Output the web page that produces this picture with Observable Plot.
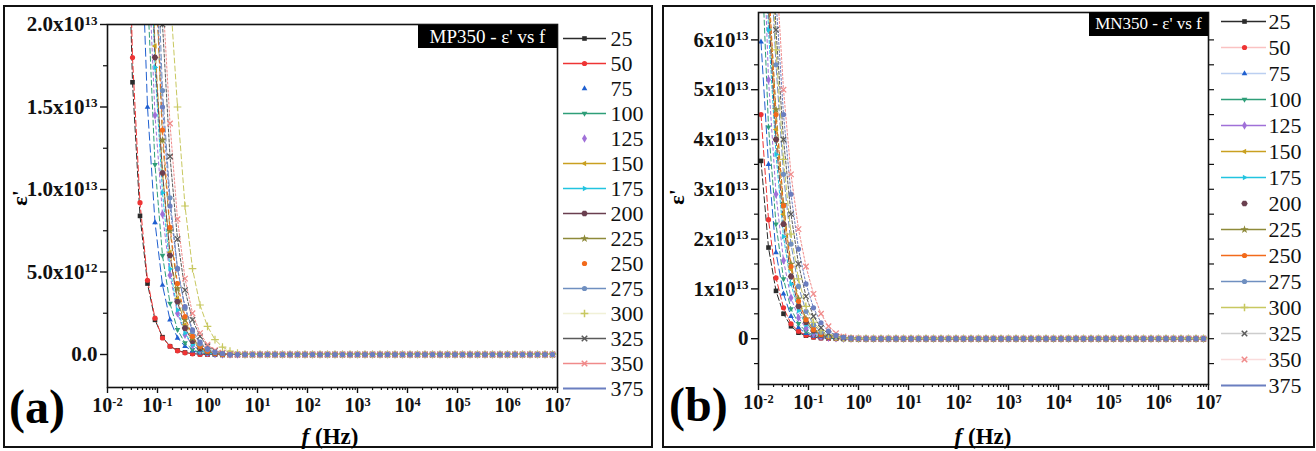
<!DOCTYPE html>
<html><head><meta charset="utf-8">
<script src="https://cdn.jsdelivr.net/npm/d3@7"></script>
<script src="https://cdn.jsdelivr.net/npm/@observablehq/plot@0.6"></script>
<style>
body{margin:0;background:#fff;width:1316px;height:451px;position:relative;overflow:hidden;font-family:'Liberation Serif','Times New Roman',serif;}
.panel{position:absolute;border:2px solid #111;box-sizing:border-box;}
.abs{position:absolute;white-space:nowrap;}
.tag{font-weight:bold;font-size:48px;line-height:48px;}
.ttl{background:#000;color:#fff;font-size:19px;text-align:center;box-sizing:border-box;}
.xl{font-weight:bold;font-size:23px;line-height:23px;transform:translateX(-50%);}
.yl{font-weight:bold;font-size:22px;line-height:22px;transform:translate(-50%,-50%) rotate(-90deg);}
svg{position:absolute;}
</style></head><body>
<div class="panel" style="left:3px;top:5px;width:650px;height:443px"></div>
<div class="panel" style="left:662px;top:5px;width:653px;height:443px"></div>
<div class="abs tag" style="left:9px;top:383px">(a)</div>
<div class="abs tag" style="left:669px;top:381px">(b)</div>
<div class="abs xl" style="left:330px;top:425px"><i>f</i> (Hz)</div>
<div class="abs xl" style="left:983px;top:425px"><i>f</i> (Hz)</div>
<div class="abs yl" style="left:20px;top:198px">ε'</div>
<div class="abs yl" style="left:677px;top:197px">ε'</div>
<div id="root"></div>
<div class="abs ttl" style="left:418px;top:25px;width:139px;height:23px;line-height:23px">MP350 - ε' vs f</div>
<div class="abs ttl" style="left:1089px;top:12px;width:119px;height:24px;line-height:24px;font-size:17px">MN350 - ε' vs f</div>
<script>
// Temperatures (legend categories)
const temps = ["25","50","75","100","125","150","175","200","225","250","275","300","325","350","375"];
// log10 of frequency (Hz) of each measured point
const logF = [-1.95,-1.8,-1.65,-1.5,-1.35,-1.2,-1.05,-0.9,-0.75,-0.6,
  -0.45,-0.3,-0.15,0,0.15,0.3,0.45,0.6,0.75,0.9,
  1.05,1.2,1.35,1.5,1.65,1.8,1.95,2.1,2.25,2.4,
  2.55,2.7,2.85,3,3.15,3.3,3.45,3.6,3.75,3.9,
  4.05,4.2,4.35,4.5,4.65,4.8,4.95,5.1,5.25,5.4,
  5.55,5.7,5.85,6,6.15,6.3,6.45,6.6,6.75,6.9];

// MP350 eps' values, in units of 1e12
const mp25 = [130,66,33,16.5,8.4,4.3,2.1,1.05,0.5,0.25, 0.12,0.05,0.02,0,0,0,0,0,0,0,
  0,0,0,0,0,0,0,0,0,0, 0,0,0,0,0,0,0,0,0,0, 0,0,0,0,0,0,0,0,0,0, 0,0,0,0,0,0,0,0,0,0];
const mp50 = [150,74,36,18,9.2,4.5,2.2,1.0,0.5,0.22, 0.1,0.04,0,0,0,0,0,0,0,0,
  0,0,0,0,0,0,0,0,0,0, 0,0,0,0,0,0,0,0,0,0, 0,0,0,0,0,0,0,0,0,0, 0,0,0,0,0,0,0,0,0,0];
const mp75 = [300,170,95,52,28,15,8,4.2,2.1,1.0, 0.5,0.22,0.1,0.04,0,0,0,0,0,0,
  0,0,0,0,0,0,0,0,0,0, 0,0,0,0,0,0,0,0,0,0, 0,0,0,0,0,0,0,0,0,0, 0,0,0,0,0,0,0,0,0,0];
const mp100 = [500,280,150,80,42,22,11.5,6,3.1,1.5, 0.7,0.3,0.12,0.05,0,0,0,0,0,0,
  0,0,0,0,0,0,0,0,0,0, 0,0,0,0,0,0,0,0,0,0, 0,0,0,0,0,0,0,0,0,0, 0,0,0,0,0,0,0,0,0,0];
const mp125 = [400,220,130,75,43,25,14.5,8.5,4.8,2.5, 1.2,0.55,0.25,0.1,0.04,0,0,0,0,0,
  0,0,0,0,0,0,0,0,0,0, 0,0,0,0,0,0,0,0,0,0, 0,0,0,0,0,0,0,0,0,0, 0,0,0,0,0,0,0,0,0,0];
const mp150 = [600,330,180,100,57,32,18.7,11,6.2,3.4, 1.8,0.9,0.4,0.17,0.07,0,0,0,0,0,
  0,0,0,0,0,0,0,0,0,0, 0,0,0,0,0,0,0,0,0,0, 0,0,0,0,0,0,0,0,0,0, 0,0,0,0,0,0,0,0,0,0];
const mp175 = [500,280,160,90,52,30,17.4,9.8,5.2,2.7, 1.3,0.6,0.25,0.1,0.04,0,0,0,0,0,
  0,0,0,0,0,0,0,0,0,0, 0,0,0,0,0,0,0,0,0,0, 0,0,0,0,0,0,0,0,0,0, 0,0,0,0,0,0,0,0,0,0];
const mp200 = [550,310,170,95,55,31,18,11,6,3.2, 1.6,0.8,0.35,0.15,0.06,0,0,0,0,0,
  0,0,0,0,0,0,0,0,0,0, 0,0,0,0,0,0,0,0,0,0, 0,0,0,0,0,0,0,0,0,0, 0,0,0,0,0,0,0,0,0,0];
const mp225 = [900,500,280,150,85,45,24,13,7.5,4, 2.1,1,0.45,0.2,0.08,0,0,0,0,0,
  0,0,0,0,0,0,0,0,0,0, 0,0,0,0,0,0,0,0,0,0, 0,0,0,0,0,0,0,0,0,0, 0,0,0,0,0,0,0,0,0,0];
const mp250 = [900,500,270,150,80,44,24,13.6,7.7,4.3, 2.3,1.1,0.5,0.2,0.08,0,0,0,0,0,
  0,0,0,0,0,0,0,0,0,0, 0,0,0,0,0,0,0,0,0,0, 0,0,0,0,0,0,0,0,0,0, 0,0,0,0,0,0,0,0,0,0];
const mp275 = [1000,560,310,170,95,52,28,16,9.5,5.2, 2.8,1.4,0.65,0.3,0.12,0.05,0,0,0,0,
  0,0,0,0,0,0,0,0,0,0, 0,0,0,0,0,0,0,0,0,0, 0,0,0,0,0,0,0,0,0,0, 0,0,0,0,0,0,0,0,0,0];
const mp300 = [1200,750,450,280,170,95,55,35,22,15, 9,5.2,3,1.7,0.9,0.45,0.2,0.08,0,0,
  0,0,0,0,0,0,0,0,0,0, 0,0,0,0,0,0,0,0,0,0, 0,0,0,0,0,0,0,0,0,0, 0,0,0,0,0,0,0,0,0,0];
const mp325 = [700,420,250,150,90,55,33,20,12,7, 3.9,2.1,1.1,0.5,0.22,0.09,0,0,0,0,
  0,0,0,0,0,0,0,0,0,0, 0,0,0,0,0,0,0,0,0,0, 0,0,0,0,0,0,0,0,0,0, 0,0,0,0,0,0,0,0,0,0];
const mp350 = [800,480,290,170,100,60,36,22,14,8.2, 4.6,2.5,1.3,0.6,0.27,0.11,0,0,0,0,
  0,0,0,0,0,0,0,0,0,0, 0,0,0,0,0,0,0,0,0,0, 0,0,0,0,0,0,0,0,0,0, 0,0,0,0,0,0,0,0,0,0];
const mp375 = [600,350,200,115,66,39,24,15,9,5.2, 2.9,1.5,0.75,0.35,0.15,0.06,0,0,0,0,
  0,0,0,0,0,0,0,0,0,0, 0,0,0,0,0,0,0,0,0,0, 0,0,0,0,0,0,0,0,0,0, 0,0,0,0,0,0,0,0,0,0];

// MN350 eps' values, in units of 1e12
const mn25 = [35.7,18.3,9.6,5.0,2.5,1.2,0.6,0.28,0.12,0.05, 0,0,0,0,0,0,0,0,0,0,
  0,0,0,0,0,0,0,0,0,0, 0,0,0,0,0,0,0,0,0,0, 0,0,0,0,0,0,0,0,0,0, 0,0,0,0,0,0,0,0,0,0];
const mn50 = [45,23.9,12.2,6.2,3.0,1.5,0.7,0.33,0.14,0.06, 0,0,0,0,0,0,0,0,0,0,
  0,0,0,0,0,0,0,0,0,0, 0,0,0,0,0,0,0,0,0,0, 0,0,0,0,0,0,0,0,0,0, 0,0,0,0,0,0,0,0,0,0];
const mn75 = [59.6,35,17.3,9.0,4.5,2.2,1.05,0.5,0.22,0.09, 0,0,0,0,0,0,0,0,0,0,
  0,0,0,0,0,0,0,0,0,0, 0,0,0,0,0,0,0,0,0,0, 0,0,0,0,0,0,0,0,0,0, 0,0,0,0,0,0,0,0,0,0];
const mn100 = [80,42.5,23,12,6,3,1.45,0.7,0.3,0.12, 0.05,0,0,0,0,0,0,0,0,0,
  0,0,0,0,0,0,0,0,0,0, 0,0,0,0,0,0,0,0,0,0, 0,0,0,0,0,0,0,0,0,0, 0,0,0,0,0,0,0,0,0,0];
const mn125 = [95,52,29,15.7,8.2,4.2,2.1,1.0,0.45,0.2, 0.08,0,0,0,0,0,0,0,0,0,
  0,0,0,0,0,0,0,0,0,0, 0,0,0,0,0,0,0,0,0,0, 0,0,0,0,0,0,0,0,0,0, 0,0,0,0,0,0,0,0,0,0];
const mn150 = [120,68,42,25,14,7.5,3.8,1.9,0.9,0.4, 0.16,0.06,0,0,0,0,0,0,0,0,
  0,0,0,0,0,0,0,0,0,0, 0,0,0,0,0,0,0,0,0,0, 0,0,0,0,0,0,0,0,0,0, 0,0,0,0,0,0,0,0,0,0];
const mn175 = [100,62,37,20.5,11,5.6,2.8,1.35,0.6,0.25, 0.1,0,0,0,0,0,0,0,0,0,
  0,0,0,0,0,0,0,0,0,0, 0,0,0,0,0,0,0,0,0,0, 0,0,0,0,0,0,0,0,0,0, 0,0,0,0,0,0,0,0,0,0];
const mn200 = [105,66,40,23,12.5,6.5,3.3,1.6,0.75,0.33, 0.14,0.05,0,0,0,0,0,0,0,0,
  0,0,0,0,0,0,0,0,0,0, 0,0,0,0,0,0,0,0,0,0, 0,0,0,0,0,0,0,0,0,0, 0,0,0,0,0,0,0,0,0,0];
const mn225 = [115,70,46,27,15,8,4,2,0.95,0.42, 0.18,0.07,0,0,0,0,0,0,0,0,
  0,0,0,0,0,0,0,0,0,0, 0,0,0,0,0,0,0,0,0,0, 0,0,0,0,0,0,0,0,0,0, 0,0,0,0,0,0,0,0,0,0];
const mn250 = [110,72,45,26.7,14.5,7.5,3.8,1.8,0.85,0.38, 0.16,0.06,0,0,0,0,0,0,0,0,
  0,0,0,0,0,0,0,0,0,0, 0,0,0,0,0,0,0,0,0,0, 0,0,0,0,0,0,0,0,0,0, 0,0,0,0,0,0,0,0,0,0];
const mn275 = [130,85,55,33,19,10.5,5.5,2.8,1.3,0.6, 0.25,0.1,0,0,0,0,0,0,0,0,
  0,0,0,0,0,0,0,0,0,0, 0,0,0,0,0,0,0,0,0,0, 0,0,0,0,0,0,0,0,0,0, 0,0,0,0,0,0,0,0,0,0];
const mn300 = [140,90,58,36,21,12,6.5,3.3,1.6,0.75, 0.32,0.13,0.05,0,0,0,0,0,0,0,
  0,0,0,0,0,0,0,0,0,0, 0,0,0,0,0,0,0,0,0,0, 0,0,0,0,0,0,0,0,0,0, 0,0,0,0,0,0,0,0,0,0];
const mn325 = [150,95,62,40,25,15,8.5,4.5,2.2,1.0, 0.45,0.18,0.07,0,0,0,0,0,0,0,
  0,0,0,0,0,0,0,0,0,0, 0,0,0,0,0,0,0,0,0,0, 0,0,0,0,0,0,0,0,0,0, 0,0,0,0,0,0,0,0,0,0];
const mn350 = [160,110,75,50,33,22,14.5,9,5,2.5, 1.1,0.45,0.17,0.06,0,0,0,0,0,0,
  0,0,0,0,0,0,0,0,0,0, 0,0,0,0,0,0,0,0,0,0, 0,0,0,0,0,0,0,0,0,0, 0,0,0,0,0,0,0,0,0,0];
const mn375 = [155,100,68,45,29,18,11,6.2,3.2,1.5, 0.65,0.27,0.1,0.04,0,0,0,0,0,0,
  0,0,0,0,0,0,0,0,0,0, 0,0,0,0,0,0,0,0,0,0, 0,0,0,0,0,0,0,0,0,0, 0,0,0,0,0,0,0,0,0,0];

const mpSeries = [mp25,mp50,mp75,mp100,mp125,mp150,mp175,mp200,mp225,mp250,mp275,mp300,mp325,mp350,mp375];
const mnSeries = [mn25,mn50,mn75,mn100,mn125,mn150,mn175,mn200,mn225,mn250,mn275,mn300,mn325,mn350,mn375];

// Axis ticks and labels
const xTicks = [1e-2,1e-1,1e0,1e1,1e2,1e3,1e4,1e5,1e6,1e7];
const xLabels = ["10^-2","10^-1","10^0","10^1","10^2","10^3","10^4","10^5","10^6","10^7"];
const yTicksA = [0,5e12,1e13,1.5e13,2e13];
const yLabelsA = ["0.0","5.0x10^12","1.0x10^13","1.5x10^13","2.0x10^13"];
const yMinorA = [2.5e12,7.5e12,1.25e13,1.75e13];
const yTicksB = [0,1e13,2e13,3e13,4e13,5e13,6e13];
const yLabelsB = ["0","1x10^13","2x10^13","3x10^13","4x10^13","5x10^13","6x10^13"];
const yMinorB = [-5e12,5e12,1.5e13,2.5e13,3.5e13,4.5e13,5.5e13];

// Styles
const SERIF = "'Liberation Serif','Times New Roman',serif";
const colors = ["#2b2b2b","#ee3434","#1f5fd0","#2e9e78","#a070d8","#c9a020","#22c4e0","#6a3f4f","#8e8a3a","#f26a1b","#6f8fc0","#c8c860","#5a5a5a","#f08a8a","#6a7ec0"];
const dashes = ["6,3","6,3","8,4","5,3","3,3","6,3","3,2","6,3","5,4","3,3","6,3","5,3","3,2","2,2","2,2"];
function poly(n, rot){ return {draw(ctx, size){ const r = Math.sqrt(size/2); for(let j=0;j<n;j++){ const a = rot + j*2*Math.PI/n; const x=r*Math.cos(a), y=r*Math.sin(a); if(j===0) ctx.moveTo(x,y); else ctx.lineTo(x,y);} ctx.closePath(); }}; }
const triUp = poly(3,-Math.PI/2), triDown = poly(3,Math.PI/2), triLeft = poly(3,Math.PI), triRight = poly(3,0), hexa = poly(6,0);
const symbols = ["square","circle",triUp,triDown,"diamond",triLeft,triRight,hexa,"star","circle","circle","plus","times","times","circle"];
const strokeSym = [false,false,false,false,false,false,false,false,false,false,false,true,true,true,false];
const legendLineA = [1,1,0,1,0,1,1,1,1,0,1,0.25,1,1,1];
const legendLineB = [1,0.3,0.3,1,1,1,1,0,1,1,1,1,0.3,0.3,1];

function rowsFor(vals){ return logF.map((e,k)=>({f: 10**e, v: vals[k]*1e12})); }

function dotOpts(i, r){
  const o = {x:"f", y:"v", symbol: symbols[i], r: r, clip: true};
  if (strokeSym[i]) { o.stroke = colors[i]; o.fill = "none"; o.strokeWidth = 1.2; }
  else { o.fill = colors[i]; }
  return o;
}

function supify(svg){
  const s = d3.select(svg);
  s.selectAll("text").each(function(){
    const t = this.textContent;
    if (!t.includes("^") && !/^[0-9.]+$/.test(t)) return;
    const isX = t.startsWith("10^") && !t.includes("x");
    this.style.fontSize = isX ? "20px" : "21px";
    this.style.fontWeight = "bold";
    this.style.fontFamily = SERIF;
    if (!t.includes("^")) return;
    const [base, exp] = t.split("^");
    const sel = d3.select(this); sel.text(null);
    sel.append("tspan").text(base);
    sel.append("tspan").attr("dy","-0.5em").style("font-size","0.62em").text(exp);
  });
}

function xMinor(){ const t=[]; for(let d=-2; d<7; d++) for(let m=2;m<10;m++) t.push(m*10**d); return t; }

function mainPlot(series, cfg){
  const marks = [];
  series.forEach((vals,i)=>{
    marks.push(Plot.line(rowsFor(vals), {x:"f", y:"v", stroke: colors[i], strokeWidth: 1, strokeDasharray: dashes[i], clip: true}));
  });
  series.forEach((vals,i)=>{
    marks.push(Plot.dot(rowsFor(vals), dotOpts(i, 2.6)));
  });
  marks.push(Plot.frame({strokeWidth: 1.6, stroke: "#111"}));
  marks.push(Plot.axisX({ticks: xTicks, tickSize: 6, tickPadding: 4, tickFormat: d => xLabels[xTicks.indexOf(d)], label: null, strokeWidth: 1.4}));
  marks.push(Plot.axisX({ticks: xMinor(), tickSize: 3, tickFormat: () => "", label: null, strokeWidth: 1.2}));
  marks.push(Plot.axisY({ticks: cfg.yTicks, tickSize: 7, tickPadding: 3, tickFormat: d => cfg.yLabels[cfg.yTicks.indexOf(d)], label: null, strokeWidth: 1.4}));
  marks.push(Plot.axisY({ticks: cfg.yMinor, tickSize: 4, tickFormat: () => "", label: null, strokeWidth: 1.2}));
  if (cfg.rightTicks) marks.push(Plot.axisY({anchor: "right", ticks: cfg.yTicks.concat(cfg.yMinor), tickSize: 5, tickFormat: () => "", label: null, strokeWidth: 1.2}));
  const svg = Plot.plot({
    width: 600, height: 451,
    marginLeft: cfg.ml, marginRight: cfg.mr, marginTop: cfg.mt, marginBottom: cfg.mb,
    style: {background: "none", fontFamily: SERIF, fontSize: "21px", fontWeight: "bold", color: "#111", overflow: "visible"},
    x: {type: "log", domain: [1e-2, 1e7]},
    y: {domain: cfg.yDomain},
    marks
  });
  supify(svg);
  svg.style.left = cfg.left + "px"; svg.style.top = "0px";
  return svg;
}

function legendPlot(cfg){
  const marks = [];
  temps.forEach((t,i)=>{
    marks.push(Plot.ruleY([t], {y: d=>d, x1: ()=>cfg.x1, x2: ()=>cfg.x2, stroke: colors[i], strokeWidth: i===14 ? 2.2 : 1.3, strokeOpacity: cfg.lineOp[i]}));
    const o = {x: ()=>cfg.xm, y: d=>d, symbol: symbols[i], r: 2.6};
    if (strokeSym[i]) { o.stroke = colors[i]; o.fill = "none"; } else { o.fill = colors[i]; }
    if (i !== 14) marks.push(Plot.dot([t], o));
  });
  marks.push(Plot.text(temps, {x: ()=>cfg.xt, y: d=>d, text: d=>d, textAnchor: "start", fontSize: 22, fontFamily: SERIF, fill: "#111"}));
  const svg = Plot.plot({
    width: 92, height: 451, margin: 0,
    style: {background: "none", fontFamily: SERIF, fontSize: "22px", overflow: "visible"},
    x: {type: "identity", axis: null},
    y: {type: "point", domain: temps, range: cfg.range, padding: 0, axis: null},
    marks
  });
  svg.style.left = cfg.left + "px"; svg.style.top = "0px";
  return svg;
}

const root = document.getElementById("root");
root.appendChild(mainPlot(mpSeries, {left: 0, ml: 107, mr: 43, mt: 24, mb: 64, yDomain: [-2e12, 2e13], yTicks: yTicksA, yLabels: yLabelsA, yMinor: yMinorA, rightTicks: false}));
root.appendChild(mainPlot(mnSeries, {left: 660, ml: 98, mr: 52, mt: 12, mb: 67, yDomain: [-9.2e12, 6.55e13], yTicks: yTicksB, yLabels: yLabelsB, yMinor: yMinorB, rightTicks: true}));
root.appendChild(legendPlot({left: 560, x1: 3, x2: 46, xm: 24, xt: 50, range: [36, 390], lineOp: legendLineA}));
root.appendChild(legendPlot({left: 1218, x1: 3, x2: 48, xm: 26, xt: 50, range: [21, 385], lineOp: legendLineB}));
</script>
</body></html>
